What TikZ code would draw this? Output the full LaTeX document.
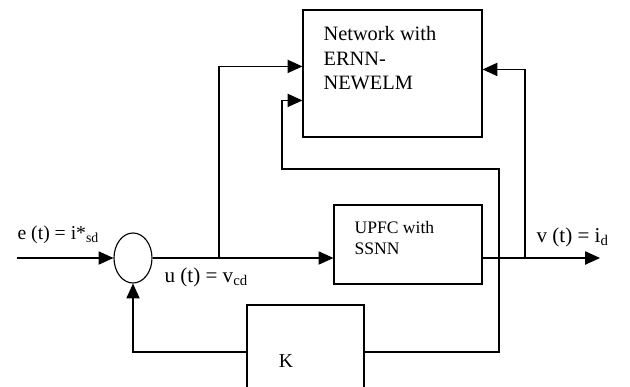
\documentclass[tikz,border=0pt]{standalone}
\usepackage{fontspec}
\setmainfont{Liberation Serif}
\usetikzlibrary{arrows.meta,calc,shapes.geometric}

\begin{document}
\begin{tikzpicture}[x=0.025cm,y=-0.025cm,line width=0.8pt,
  >={Triangle[length=0.37cm,width=0.33cm]},
  blk/.style={draw=black,rectangle,inner sep=0pt},
  txt/.style={inner sep=0pt,align=left}]
\useasboundingbox (0,0) rectangle (630,387);
\clip (0,0) rectangle (630,387);

% blocks
\node[blk,minimum width=4.475cm,minimum height=3.175cm] (net)  at (392.5,73.5) {};
\node[blk,minimum width=3.7cm,minimum height=1.975cm]   (upfc) at (408,244.5)  {};
\node[blk,minimum width=2.925cm,minimum height=2.35cm]  (k)    at (305.5,352)  {};
\node[draw=black,ellipse,inner sep=0pt,minimum width=0.95cm,minimum height=1.25cm] (sum) at (133,258) {};

% block texts
\node[txt,anchor=north west,font=\fontsize{14.5}{17.4}\selectfont] (netTxt) at (323,26) {Network with\\ERNN-\\NEWELM};
\node[txt,anchor=north west,font=\fontsize{12.5}{14.9}\selectfont] (upfcTxt) at (354,221) {UPFC with\\SSNN};
\node[txt,font=\fontsize{14}{16}\selectfont] (kTxt) at (286,361) {K};

% signal labels
\node[txt,anchor=base west,font=\fontsize{14}{16}\selectfont] (eLbl) at (17,239) {e (t) = i*\textsubscript{sd}};
\node[txt,anchor=base west,font=\fontsize{15}{18}\selectfont] (uLbl) at (164,282) {u (t) = v\textsubscript{cd}};
\node[txt,anchor=base west,font=\fontsize{15}{18}\selectfont] (vLbl) at (536,242) {v (t) = i\textsubscript{d}};

% points on the lines
\coordinate (in)  at (17,258);
\coordinate (out) at (600,258);
\coordinate (t1)  at (219,258);
\coordinate (t2)  at (525,258);
\coordinate (t3)  at (499,258);

% connectors
\draw[->] (in) -- (sum.west);
\draw[->] (sum.east) -- (sum.east -| upfc.west);
\draw[->] (sum.east -| upfc.east) -- (out);
\draw[->] (t1) |- ($(net.north west)+(0,57)$);
\draw[->] (t2) |- ($(net.north east)+(0,60)$);
\draw[->] (t3) |- (282,169) |- ($(net.north west)+(0,91)$);
\draw (t3) |- (k.east);
\draw[->] (k.west) -| (sum.south);
\end{tikzpicture}
\end{document}
